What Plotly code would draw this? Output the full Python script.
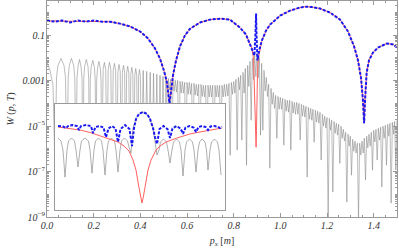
import numpy as np
import plotly.graph_objects as go

# ---------------- main panel data ----------------
# gray curve, first part (separate arches)
gx_A = [0, 0.0129, 0.0257, 0.0343,
        0.0407, 0.0471, 0.06, 0.0729, 0.0793, 0.0857,
        0.0909, 0.0956, 0.105, 0.1144, 0.1192, 0.1243,
        0.1286, 0.1329, 0.1393, 0.1457, 0.15, 0.1543,
        0.1577, 0.1612, 0.1685, 0.1757, 0.1787, 0.1822,
        0.1856, 0.189, 0.1963, 0.2032, 0.2066, 0.21,
        0.213, 0.2165, 0.2225, 0.2285, 0.2315, 0.2349,
        0.2405, 0.246, 0.2516, 0.2572,
        0.2623, 0.2679, 0.2735, 0.2786,
        0.2837, 0.2889, 0.294, 0.2992,
        0.3039, 0.3086, 0.3138, 0.3185,
        0.3232, 0.3279, 0.3326, 0.3369,
        0.3412, 0.3459, 0.3506, 0.3549,
        0.3592, 0.3635, 0.3678, 0.3721,
        0.3763, 0.3802, 0.3845, 0.3888,
        0.3926, 0.3965, 0.4003, 0.4046,
        0.4123, 0.42, 0.4273, 0.435, 0.4423, 0.4496, 0.4565, 0.4638,
        0.4706, 0.4775, 0.4844, 0.4908, 0.4972, 0.5036, 0.51, 0.5161]
gy_A = [6.3e-3, 2.8e-3, 6.2e-4, 1e-7,
        1.38e-3, 4.64e-3, 9.4e-3, 4.64e-3, 1.38e-3, 1e-7,
        1.38e-3, 4.64e-3, 9.4e-3, 4.64e-3, 1.38e-3, 1e-7,
        1.25e-3, 4.2e-3, 8.5e-3, 4.2e-3, 1.25e-3, 1e-7,
        1.25e-3, 4.2e-3, 8.5e-3, 4.2e-3, 1.25e-3, 1e-7,
        1.13e-3, 3.8e-3, 7.7e-3, 3.8e-3, 1.13e-3, 1e-7,
        1.02e-3, 3.43e-3, 6.95e-3, 3.43e-3, 1.02e-3, 1e-7,
        3.1e-3, 6.3e-3, 3.1e-3, 1e-7,
        3.1e-3, 6.3e-3, 3.1e-3, 1e-7,
        2.8e-3, 5.7e-3, 2.8e-3, 1e-7,
        2.5e-3, 5.1e-3, 2.5e-3, 1e-7,
        2.3e-3, 4.64e-3, 2.3e-3, 1e-7,
        2.1e-3, 4.2e-3, 2.1e-3, 1e-7,
        1.9e-3, 3.8e-3, 1.9e-3, 1e-7,
        1.69e-3, 3.43e-3, 1.69e-3, 1e-7,
        1.53e-3, 3.1e-3, 1.53e-3, 1e-7,
        2.8e-3, 1e-7, 2.54e-3, 1e-7, 2.29e-3, 1e-7, 2.07e-3, 1e-7,
        1.9e-3, 1e-7, 1.69e-3, 1e-7, 1.53e-3, 1e-7, 1.38e-3, 1e-7]

# gray curve, dense part sampled every 0.005 from 0.52 to 1.50
gx_B = np.round(np.linspace(0.52, 1.50, 197), 4)
gy_B = [1.25e-3, 3.8e-4, 1.13e-3, 1e-7, 1.13e-3, 3.4e-4, 1.02e-3, 3.1e-4, 1.02e-3, 1e-7,
        9.2e-4, 2.8e-4, 9.2e-4, 2.8e-4, 8.3e-4, 1e-7, 8.3e-4, 2.5e-4, 8.3e-4, 2.5e-4,
        7.5e-4, 1e-7, 7.5e-4, 2.3e-4, 6.8e-4, 2.1e-4, 6.8e-4, 1e-7, 6.8e-4, 2.0e-4,
        6.2e-4, 1.9e-4, 6.2e-4, 1e-7, 6.2e-4, 1.9e-4, 6.2e-4, 1.9e-4, 6.2e-4, 1e-7,
        6.2e-4, 1.9e-4, 6.2e-4, 1.9e-4, 6.2e-4, 1e-7, 6.2e-4, 1.9e-4, 6.8e-4, 2.0e-4,
        6.8e-4, 2.1e-4, 7.5e-4, 5.2e-7, 8.3e-4, 2.5e-4, 9.2e-4, 2.8e-4, 1.13e-3, 8.7e-7,
        1.38e-3, 4.0e-4, 1.69e-3, 2.4e-6, 2.29e-3, 2.8e-4, 3.43e-3, 1.9e-7, 4.64e-3, 5.5e-4,
        6.95e-3, 1.8e-5, 9.4e-3, 1.1e-3, 1.41e-2, 1.5e-3, 1.56e-2, 1.3e-3, 1.04e-2, 4e-6,
        5.7e-3, 6.5e-6, 2.8e-3, 3.5e-4, 1.38e-3, 2.0e-4, 6.8e-4, 1.4e-7, 4.5e-4, 9e-5,
        3.0e-4, 6e-5, 2.24e-4, 2.9e-6, 2.0e-4, 5.5e-5, 1.83e-4, 5.5e-5, 1.66e-4, 1.44e-6,
        1.5e-4, 4.5e-5, 1.36e-4, 4.1e-5, 1.36e-4, 8.7e-7, 1.22e-4, 3.7e-5, 1.1e-4, 3.3e-5,
        1.1e-4, 3.3e-5, 1.0e-4, 2.4e-6, 9.0e-5, 2.7e-5, 8.2e-5, 2.5e-5, 7.4e-5, 5.7e-8,
        6.7e-5, 2.0e-5, 6.0e-5, 1.8e-5, 5.5e-5, 1.95e-6, 4.9e-5, 1.5e-5, 4.5e-5, 1.35e-5,
        4.0e-5, 3.2e-7, 3.3e-5, 1.0e-5, 2.7e-5, 8.1e-6, 2.4e-5, 8e-10, 2.2e-5, 6.6e-6,
        1.8e-5, 1.25e-8, 1.6e-5, 4.8e-6, 1.33e-5, 4.0e-6, 1.2e-5, 2.3e-7, 9.8e-6, 2.9e-6,
        7.2e-6, 2.2e-6, 5.3e-6, 4.5e-9, 4.4e-6, 1.3e-6, 3.6e-6, 6.9e-8, 2.6e-6, 7.8e-7,
        2.15e-6, 6.5e-7, 1.76e-6, 8e-10, 1.76e-6, 5.3e-7, 2.15e-6, 6.5e-7, 2.9e-6, 4.2e-8,
        3.6e-6, 1.1e-6, 4.4e-6, 1.3e-6, 5.3e-6, 1.15e-7, 6.5e-6, 2.0e-6, 7.2e-6, 3.2e-7,
        8.0e-6, 2.4e-6, 8.9e-6, 2.1e-8, 9.8e-6, 2.9e-6, 1.08e-5, 1.9e-7, 1.2e-5, 3.6e-6,
        1.33e-5, 4.1e-9, 1.47e-5, 4.4e-6, 1.6e-5, 1.15e-7, 1.8e-5]

# blue dashed curve
bx = [0, 0.034, 0.064, 0.099, 0.133, 0.167, 0.201, 0.236, 0.27, 0.313,
      0.356, 0.399, 0.433, 0.463, 0.484, 0.501, 0.514, 0.521, 0.525, 0.531,
      0.54, 0.553, 0.57, 0.591, 0.613, 0.656, 0.699, 0.742, 0.784, 0.827,
      0.853, 0.87, 0.883, 0.889, 0.894, 0.896, 0.898, 0.902, 0.909, 0.921,
      0.939, 0.956, 0.999, 1.042, 1.084, 1.106, 1.136, 1.17, 1.213, 1.256,
      1.29, 1.316, 1.333, 1.346, 1.354, 1.359, 1.363, 1.37, 1.38, 1.397,
      1.419, 1.457, 1.483, 1.5]
by = [0.44, 0.39, 0.44, 0.36, 0.44, 0.39, 0.44, 0.39, 0.39, 0.32,
      0.24, 0.144, 0.071, 0.0258, 0.0094, 0.0028, 8.3e-4, 2.2e-4, 1.0e-4, 3.0e-4,
      1.7e-3, 7.7e-3, 0.032, 0.096, 0.19, 0.36, 0.48, 0.53, 0.48, 0.215,
      0.106, 0.039, 0.017, 0.0127, 0.16, 0.885, 0.096, 7.7e-3, 0.021, 0.058,
      0.16, 0.29, 0.72, 1.2, 1.62, 1.79, 1.71, 1.47, 0.98, 0.48,
      0.144, 0.032, 7.7e-3, 1.25e-3, 1.36e-4, 1.33e-5, 1.35e-4, 2.3e-3, 7.7e-3, 0.017,
      0.0286, 0.043, 0.039, 0.0286]

# red solid curve
rx = [0, 0.034, 0.064, 0.099, 0.133, 0.167, 0.201, 0.236, 0.27, 0.313,
      0.356, 0.399, 0.433, 0.463, 0.484, 0.501, 0.514, 0.521, 0.525, 0.531,
      0.54, 0.553, 0.57, 0.591, 0.613, 0.656, 0.699, 0.742, 0.784, 0.827,
      0.853, 0.87, 0.879, 0.8855, 0.889, 0.8916, 0.896, 0.8979, 0.9001, 0.9022,
      0.9065, 0.913, 0.921, 0.939, 0.956, 0.999, 1.042, 1.084, 1.106, 1.136,
      1.17, 1.213, 1.256, 1.29, 1.316, 1.333, 1.346, 1.354, 1.359, 1.363,
      1.37, 1.38, 1.397, 1.419, 1.457, 1.483, 1.5]
ry = [0.42, 0.42, 0.42, 0.41, 0.41, 0.41, 0.41, 0.40, 0.39, 0.32,
      0.24, 0.144, 0.071, 0.0258, 0.0094, 0.0028, 8.3e-4, 2.2e-4, 1.0e-4, 3.0e-4,
      1.7e-3, 7.7e-3, 0.032, 0.096, 0.19, 0.36, 0.48, 0.53, 0.48, 0.215,
      0.106, 0.039, 0.026, 7.7e-3, 3.7e-4, 3.0e-5, 1.17e-6, 6.5e-6, 1.36e-4, 2.3e-3,
      0.0104, 0.026, 0.058, 0.16, 0.29, 0.72, 1.2, 1.62, 1.79, 1.71,
      1.47, 0.98, 0.48, 0.144, 0.032, 7.7e-3, 1.25e-3, 1.36e-4, 1.33e-5, 1.35e-4,
      2.3e-3, 7.7e-3, 0.017, 0.0286, 0.043, 0.039, 0.0286]

# ---------------- inset data ----------------
ix_red = [0.818, 0.83, 0.84, 0.85, 0.86, 0.87, 0.878, 0.884, 0.889, 0.893,
          0.896, 0.8985, 0.9005, 0.902, 0.9035, 0.9055, 0.908, 0.911, 0.916, 0.92,
          0.926, 0.937, 0.95, 0.96, 0.97, 0.982]
iy_red = [7.1e-5, 6.0e-5, 5.0e-5, 3.8e-5, 2.5e-5, 1.78e-5, 1.26e-5, 7.9e-6, 4.5e-6, 1.58e-6,
          5.0e-7, 8.9e-8, 2.5e-8, 1.12e-8, 2.5e-8, 8.9e-8, 5.0e-7, 1.58e-6, 5.0e-6, 7.9e-6,
          1.26e-5, 2.0e-5, 3.2e-5, 4.0e-5, 5.0e-5, 6.3e-5]

ix_blue = [0.818, 0.823, 0.826, 0.828, 0.8325, 0.837, 0.839, 0.841, 0.846, 0.851,
           0.853, 0.8555, 0.8595, 0.8635, 0.866, 0.8685, 0.872, 0.8755, 0.878, 0.8805,
           0.885, 0.8895, 0.892, 0.894, 0.896, 0.899, 0.903, 0.907, 0.91, 0.913,
           0.915, 0.917, 0.9195, 0.9235, 0.9275, 0.93, 0.9325, 0.9365, 0.9405, 0.943,
           0.9455, 0.9495, 0.9535, 0.956, 0.9585, 0.962, 0.9655, 0.968, 0.9705, 0.974,
           0.9775, 0.98, 0.982]
iy_blue = [7.9e-5, 7.5e-5, 6.3e-5, 7.9e-5, 8.9e-5, 7.9e-5, 5.0e-5, 7.9e-5, 8.9e-5, 7.9e-5,
           3.5e-5, 7.1e-5, 7.9e-5, 6.7e-5, 2.2e-5, 6.0e-5, 7.9e-5, 6.0e-5, 1.26e-5, 5.6e-5,
           8.9e-5, 5.6e-5, 7.9e-6, 6.3e-5, 1.78e-4, 3.2e-4, 4.0e-4, 3.2e-4, 1.78e-4, 6.3e-5,
           2.2e-5, 1.0e-5, 5.6e-5, 7.9e-5, 5.6e-5, 2.0e-5, 6.0e-5, 7.9e-5, 6.0e-5, 3.2e-5,
           6.7e-5, 7.9e-5, 6.7e-5, 4.0e-5, 7.1e-5, 7.9e-5, 7.1e-5, 5.0e-5, 7.5e-5, 7.9e-5,
           7.5e-5, 6.3e-5, 7.5e-5]

ix_gray = [0.818, 0.821, 0.823, 0.825,
           0.827, 0.8285, 0.8315, 0.8345, 0.836, 0.838,
           0.84, 0.8415, 0.845, 0.8485, 0.85, 0.852,
           0.854, 0.8555, 0.8585, 0.8615, 0.863, 0.865,
           0.867, 0.8685, 0.8715, 0.8745, 0.876, 0.878,
           0.88, 0.8815, 0.8845, 0.8875, 0.889, 0.891,
           0.893, 0.896, 0.899, 0.903, 0.907, 0.91, 0.913, 0.915, 0.917,
           0.919, 0.9205, 0.9235, 0.9265, 0.928, 0.93,
           0.932, 0.9335, 0.9365, 0.9395, 0.941, 0.943,
           0.945, 0.9465, 0.9495, 0.9525, 0.954, 0.956,
           0.958, 0.9595, 0.962, 0.965, 0.9665, 0.968,
           0.97, 0.9715, 0.9745, 0.9775, 0.979, 0.981]
iy_gray = [2.0e-5, 1.41e-5, 5.0e-6, 2.2e-7,
           5.0e-6, 1.41e-5, 2.0e-5, 1.41e-5, 5.0e-6, 7.1e-7,
           5.0e-6, 1.41e-5, 2.0e-5, 1.41e-5, 5.0e-6, 3.5e-7,
           5.0e-6, 1.41e-5, 2.0e-5, 1.41e-5, 5.0e-6, 2.8e-7,
           5.0e-6, 1.41e-5, 2.0e-5, 1.41e-5, 5.0e-6, 4.0e-7,
           5.0e-6, 1.41e-5, 2.0e-5, 1.41e-5, 7.1e-6, 3.5e-6,
           6.3e-5, 1.78e-4, 3.2e-4, 4.0e-4, 3.2e-4, 1.78e-4, 6.3e-5, 1.58e-5, 2.8e-6,
           5.0e-6, 1.26e-5, 1.78e-5, 1.26e-5, 5.0e-6, 1.12e-6,
           5.0e-6, 1.26e-5, 1.78e-5, 1.26e-5, 5.0e-6, 2.5e-7,
           5.0e-6, 1.26e-5, 1.78e-5, 1.26e-5, 5.0e-6, 4.0e-7,
           5.0e-6, 1.26e-5, 1.78e-5, 1.26e-5, 5.0e-6, 5.0e-7,
           5.0e-6, 1.26e-5, 1.78e-5, 1.26e-5, 5.0e-6, 2.8e-7]

# tick labels
x_tick_vals = [0.0, 0.2, 0.4, 0.6, 0.8, 1.0, 1.2, 1.4]
x_tick_text = ["<i>0.0</i>", "<i>0.2</i>", "<i>0.4</i>", "<i>0.6</i>", "<i>0.8</i>",
               "<i>1.0</i>", "<i>1.2</i>", "<i>1.4</i>"]
y_tick_vals = [1e-9, 1e-7, 1e-5, 1e-3, 1e-1]
y_tick_text = ["<i>10</i><sup>\u22129</sup>", "<i>10</i><sup>\u22127</sup>",
               "<i>10</i><sup>\u22125</sup>", "<i>0.001</i>", "<i>0.1</i>"]

assert len(gx_A) == len(gy_A)
assert len(gx_B) == len(gy_B)
assert len(bx) == len(by) and len(rx) == len(ry)
assert len(ix_red) == len(iy_red) and len(ix_blue) == len(iy_blue) and len(ix_gray) == len(iy_gray)

gx = list(gx_A) + list(gx_B)
gy = list(gy_A) + list(gy_B)

GRAY = "rgba(135,135,135,0.75)"
RED = "rgb(255,95,95)"
BLUE = "rgb(25,25,240)"
FRAME = "#9a9a9a"
FONT = "Liberation Serif"

fig = go.Figure()
fig.add_trace(go.Scatter(x=gx, y=gy, mode="lines", line=dict(color=GRAY, width=0.75),
                         hoverinfo="skip"))
fig.add_trace(go.Scatter(x=rx, y=ry, mode="lines", line=dict(color=RED, width=1)))
fig.add_trace(go.Scatter(x=bx, y=by, mode="lines",
                         line=dict(color=BLUE, width=2, dash="3px,1.5px")))

fig.add_trace(go.Scatter(x=ix_gray, y=iy_gray, mode="lines", xaxis="x2", yaxis="y2",
                         line=dict(color=GRAY, width=0.9)))
fig.add_trace(go.Scatter(x=ix_red, y=iy_red, mode="lines", xaxis="x2", yaxis="y2",
                         line=dict(color=RED, width=1)))
fig.add_trace(go.Scatter(x=ix_blue, y=iy_blue, mode="lines", xaxis="x2", yaxis="y2",
                         line=dict(color=BLUE, width=2, dash="3px,1.5px")))

y_minor = [m * 10.0 ** e for e in range(-9, 1) for m in range(1, 10)
           if not (m == 1 and e % 2 != 0)]

fig.update_layout(
    width=399, height=250,
    margin=dict(l=47, r=2, t=1, b=33),
    showlegend=False,
    plot_bgcolor="white", paper_bgcolor="white",
    font=dict(family=FONT, size=10, color="#333"),
    xaxis=dict(
        range=[0, 1.5], showline=True, linecolor=FRAME, linewidth=1, mirror="allticks",
        ticks="inside", ticklen=4, tickcolor=FRAME, tickwidth=1,
        tickmode="array", tickvals=x_tick_vals, ticktext=x_tick_text,
        ticklabelstandoff=-1,
        minor=dict(dtick=0.05, tick0=0, ticks="inside", ticklen=2, tickcolor=FRAME),
        showgrid=False, zeroline=False,
        tickfont=dict(family=FONT, size=10, color="#333"),
        title=dict(text="<i>p</i><sub><i>x</i></sub> [<i>m</i>]", standoff=6,
                   font=dict(family=FONT, size=10, color="#333")),
    ),
    yaxis=dict(
        type="log", range=[-9, 0.5], showline=True, linecolor=FRAME, linewidth=1,
        mirror="allticks", ticks="inside", ticklen=4, tickcolor=FRAME, tickwidth=1,
        tickmode="array", tickvals=y_tick_vals, ticktext=y_tick_text,
        ticklabelstandoff=-1,
        minor=dict(tickmode="array", tickvals=y_minor, ticks="inside", ticklen=2,
                   tickcolor=FRAME),
        showgrid=False, zeroline=False,
        tickfont=dict(family=FONT, size=10, color="#333"),
        title=dict(text="<i>W</i> (<i>p</i>, <i>T</i>)", standoff=6,
                   font=dict(family=FONT, size=10, color="#333")),
    ),
    xaxis2=dict(
        domain=[0.0229, 0.5086], anchor="y2", range=[0.815, 0.985],
        showline=True, linecolor=FRAME, linewidth=1, mirror=True,
        ticks="", showticklabels=False, showgrid=False, zeroline=False,
    ),
    yaxis2=dict(
        domain=[0.0324, 0.523], anchor="x2", type="log", range=[-8.3, -3.0],
        showline=True, linecolor=FRAME, linewidth=1, mirror=True,
        ticks="", showticklabels=False, showgrid=False, zeroline=False,
    ),
)

fig.write_html("out.html", config={"displayModeBar": False},
               post_script="document.body.style.margin='0px';")
